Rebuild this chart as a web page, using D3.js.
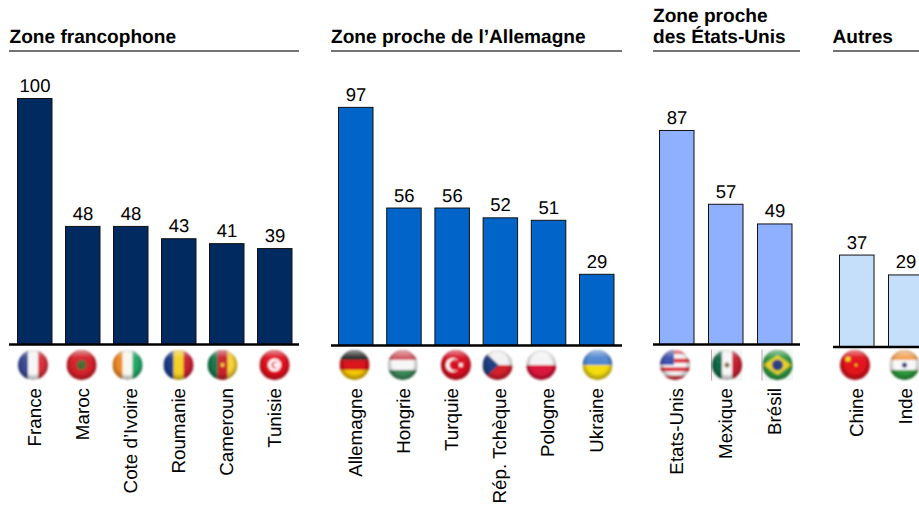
<!DOCTYPE html>
<html><head><meta charset="utf-8">
<script src="https://cdn.jsdelivr.net/npm/d3@7/dist/d3.min.js"></script>
<style>html,body{margin:0;padding:0;background:#fff;overflow:hidden}svg{display:block}text{font-family:"Liberation Sans",Arial,sans-serif;fill:#000;text-rendering:geometricPrecision}</style>
</head><body><svg id="c" width="919" height="509"></svg>
<script>
const francoNames=["France","Maroc","Cote d’Ivoire","Roumanie","Cameroun","Tunisie"];
const francoValues=[100,48,48,43,41,39];
const germanNames=["Allemagne","Hongrie","Turquie","Rép. Tchèque","Pologne","Ukraine"];
const germanValues=[97,56,56,52,51,29];
const usNames=["Etats-Unis","Mexique","Brésil"];
const usValues=[87,57,49];
const otherNames=["Chine","Inde"];
const otherValues=[37,29];
const flagNudges={France:-1.5,Maroc:-1,"Cote d’Ivoire":-3,Roumanie:0,Cameroun:-4,Tunisie:0,Allemagne:-1,Hongrie:-1,Turquie:4,"Rép. Tchèque":-2.5,Pologne:-7,Ukraine:1,"Etats-Unis":-1.5,Mexique:1.5,"Brésil":3,Chine:-1.5,Inde:-1};

const groups=[
 {lines:["Zone francophone"],names:francoNames,values:francoValues,color:"#002a60",x0:17,step:48,rule:[9,299],base:344.5,h:246,labelX:9.5},
 {lines:["Zone proche de l’Allemagne"],names:germanNames,values:germanValues,color:"#0064c8",x0:338,step:48.2,rule:[331,622],base:345.5,h:245.5,labelX:331},
 {lines:["Zone proche","des États-Unis"],names:usNames,values:usValues,color:"#8fb0ff",x0:659,step:49,rule:[653,800],base:344.5,h:246,labelX:653},
 {lines:["Autres"],names:otherNames,values:otherValues,color:"#c5dffa",x0:839,step:49,rule:[833,919],base:347,h:248.5,labelX:832.5}
];
const barW=35;

const svg=d3.select("#c");
const defs=svg.append("defs");
const gloss=defs.append("radialGradient").attr("id","gloss").attr("cx","50%").attr("cy","45%").attr("r","55%");
gloss.append("stop").attr("offset","62%").attr("stop-color","#000").attr("stop-opacity",0);
gloss.append("stop").attr("offset","100%").attr("stop-color","#000").attr("stop-opacity",.38);
const shine=defs.append("linearGradient").attr("id","shine").attr("x1",0).attr("x2",0).attr("y1",0).attr("y2",1);
shine.append("stop").attr("offset","0%").attr("stop-color","#fff").attr("stop-opacity",.55);
shine.append("stop").attr("offset","45%").attr("stop-color","#fff").attr("stop-opacity",.05);
shine.append("stop").attr("offset","100%").attr("stop-color","#fff").attr("stop-opacity",0);
defs.append("filter").attr("id","soft").append("feGaussianBlur").attr("stdDeviation",.8);
defs.append("clipPath").attr("id","disc").append("circle").attr("r",15);

function vStripes(g,cols){const w=30/cols.length;cols.forEach((c,i)=>g.append("rect").attr("x",-15+i*w).attr("y",-15).attr("width",w+.3).attr("height",30).attr("fill",c));}
function hStripes(g,cols){const h=30/cols.length;cols.forEach((c,i)=>g.append("rect").attr("x",-15).attr("y",-15+i*h).attr("width",30).attr("height",h+.3).attr("fill",c));}
function dot(g,x,y,r,c){g.append("circle").attr("cx",x).attr("cy",y).attr("r",r).attr("fill",c);}
const painters={
 France:g=>vStripes(g,["#3a4a96","#f6f6f6","#d8323c"]),
 Maroc:g=>{vStripes(g,["#d6202a"]);dot(g,0,0,5,"#4d6b35");},
 "Cote d’Ivoire":g=>vStripes(g,["#f08a24","#f8f8f0","#1fa868"]),
 Roumanie:g=>vStripes(g,["#1c3a8c","#f5d020","#cc2033"]),
 Cameroun:g=>{vStripes(g,["#15794a","#c8222c","#f4d235"]);dot(g,0,0,2,"#f4d235");},
 Tunisie:g=>{vStripes(g,["#e0101f"]);dot(g,0,0,6.5,"#fff");dot(g,0.5,0,3.5,"#e0101f");dot(g,1.5,0,2.6,"#fff");},
 Allemagne:g=>hStripes(g,["#2a2a2a","#d8121c","#f7c800"]),
 Hongrie:g=>hStripes(g,["#cf5860","#f6f6f6","#3d8a5a"]),
 Turquie:g=>{vStripes(g,["#d80f22"]);dot(g,-3,0,7,"#fff");dot(g,-1,0,5.6,"#d80f22");dot(g,5,0,2,"#fff");},
 "Rép. Tchèque":g=>{hStripes(g,["#f2f2f2","#d3202c"]);g.append("path").attr("d","M-15,-15L1,0L-15,15Z").attr("fill","#1c3f80");},
 Pologne:g=>hStripes(g,["#f4f4f4","#dc143c"]),
 Ukraine:g=>hStripes(g,["#4f86d0","#f5dc10"]),
 "Etats-Unis":g=>{hStripes(g,["#dd3540","#f8f8f8","#dd3540","#f8f8f8","#dd3540","#f8f8f8","#dd3540"]);g.append("rect").attr("x",-15).attr("y",-15).attr("width",14).attr("height",15).attr("fill","#3c4fb0");},
 Mexique:g=>{vStripes(g,["#0f6b48","#f6f6f6","#c81f30"]);dot(g,0,0,2.5,"#8a6a3a");},
 "Brésil":g=>{vStripes(g,["#2f9a45"]);g.append("path").attr("d","M-14,0L0,-10L14,0L0,10Z").attr("fill","#e8d020");dot(g,0,0,5.5,"#2a3f80");},
 Chine:g=>{vStripes(g,["#e0121c"]);dot(g,-7,-6,2.6,"#f8d820");dot(g,1,0,1.2,"#f8d820");},
 Inde:g=>{hStripes(g,["#f2a050","#f8f8f8","#2d9a3a"]);dot(g,0,0,2.6,"#2a3580");}
};

groups.forEach(gr=>{
 const g=svg.append("g");
 const n=gr.names.length;
 const x=d3.scaleBand().domain(gr.names).range([gr.x0,gr.x0+gr.step*(n-1)+barW]).paddingInner(1-barW/gr.step).paddingOuter(0);
 const y=d3.scaleLinear().domain([0,100]).range([gr.base,gr.base-gr.h]);

 gr.lines.slice().reverse().forEach((t,i)=>g.append("text").attr("x",gr.labelX).attr("y",43-i*21.5).attr("font-size",19.1).attr("font-weight","bold").text(t));
 g.append("line").attr("x1",gr.rule[0]).attr("x2",gr.rule[1]).attr("y1",51).attr("y2",51).attr("stroke","#444").attr("stroke-width",1.6);

 const data=gr.names.map((d,i)=>({n:d,v:gr.values[i]}));
 g.selectAll("rect.bar").data(data).join("rect").attr("class","bar")
  .attr("x",d=>x(d.n)+.5).attr("width",x.bandwidth()-.5)
  .attr("y",d=>y(d.v)).attr("height",d=>gr.base-y(d.v))
  .attr("fill",gr.color).attr("stroke","#111").attr("stroke-width",1);
 g.selectAll("text.val").data(data).join("text").attr("class","val")
  .attr("x",d=>x(d.n)+x.bandwidth()/2+.5).attr("y",d=>y(d.v)-6.5).attr("text-anchor","middle").attr("font-size",18.5).text(d=>d.v);
 g.append("line").attr("x1",gr.rule[0]).attr("x2",gr.rule[1]).attr("y1",gr.base).attr("y2",gr.base).attr("stroke","#000").attr("stroke-width",2.4);

 data.forEach(d=>{
  const cx=x(d.n)+x.bandwidth()/2+flagNudges[d.n];
  const f=g.append("g").attr("transform",`translate(${cx},365)`);
  if(d.n==="Mexique"||d.n==="Brésil"){
   f.append("rect").attr("x",-15.5).attr("y",-15.5).attr("width",31).attr("height",31).attr("fill","#f3f8f4");
   f.append("line").attr("x1",-15.5).attr("x2",-15.5).attr("y1",-15.5).attr("y2",15.5).attr("stroke","#c9a0ac");
  }
  const inner=f.append("g").attr("filter","url(#soft)").append("g").attr("clip-path","url(#disc)");
  painters[d.n](inner);
  inner.append("circle").attr("r",15).attr("fill","url(#gloss)");
  inner.append("ellipse").attr("cy",-7).attr("rx",12).attr("ry",8).attr("fill","url(#shine)");
 });

 g.selectAll("text.cat").data(data).join("text").attr("class","cat")
  .attr("transform",d=>`translate(${x(d.n)+x.bandwidth()/2+6},388) rotate(-90)`)
  .attr("text-anchor","end").attr("font-size",18.8).text(d=>d.n);
});
</script></body></html>
